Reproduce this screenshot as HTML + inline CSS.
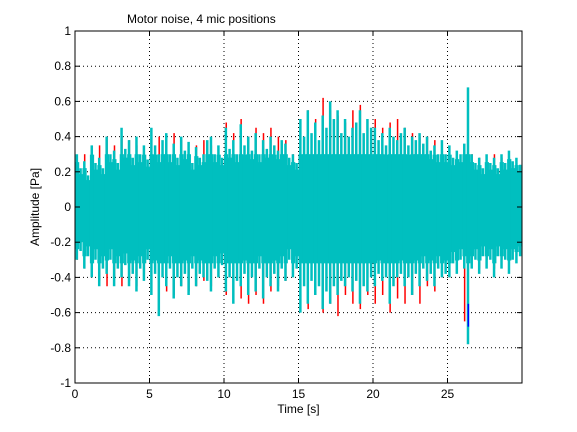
<!DOCTYPE html>
<html><head><meta charset="utf-8"><style>
body{margin:0;background:#fff;}
svg{display:block;font-family:"Liberation Sans",Arial,sans-serif;font-size:12px;}
</style></head><body>
<svg id="c" width="577" height="432">
<rect x="0" y="0" width="577" height="432" fill="#fff"/>
<g id="plot"></g>
</svg>
<script>
const xTicks=[0,5,10,15,20,25];
const yTicks=[-1,-0.8,-0.6,-0.4,-0.2,0,0.2,0.4,0.6,0.8,1];
const yTickLabels=["-1","-0.8","-0.6","-0.4","-0.2","0","0.2","0.4","0.6","0.8","1"];
const cyanMax=[.30,.22,.26,.18,.35,.25,.28,.22,.40,.30,.32,.25,.45,.33,.38,.28,.40,.30,.35,.27,
.45,.35,.30,.38,.42,.30,.36,.28,.40,.32,.37,.25,.34,.28,.30,.38,.40,.30,.35,.28,
.45,.33,.38,.30,.47,.35,.40,.32,.42,.30,.38,.33,.40,.35,.32,.38,.36,.28,.30,.25,
.50,.40,.55,.42,.48,.38,.52,.45,.60,.50,.55,.42,.50,.40,.45,.48,.55,.42,.50,.45,
.45,.38,.42,.35,.45,.40,.38,.42,.45,.35,.40,.38,.42,.36,.40,.32,.35,.30,.38,.30,
.35,.28,.32,.30,.36,.68,.30,.25,.28,.22,.30,.25,.28,.22,.30,.25,.32,.26,.28,.24];
const cyanMin=[-.30,-.25,-.35,-.28,-.40,-.30,-.45,-.35,-.38,-.30,-.45,-.35,-.40,-.33,-.45,-.38,-.48,-.35,-.42,-.30,
-.50,-.38,-.62,-.40,-.45,-.35,-.52,-.40,-.45,-.38,-.50,-.35,-.45,-.38,-.40,-.42,-.48,-.35,-.40,-.33,
-.48,-.40,-.55,-.42,-.45,-.38,-.50,-.40,-.48,-.35,-.52,-.40,-.45,-.38,-.48,-.35,-.42,-.30,-.40,-.35,
-.60,-.45,-.55,-.42,-.50,-.45,-.58,-.48,-.55,-.45,-.50,-.42,-.45,-.40,-.48,-.42,-.55,-.45,-.48,-.40,
-.45,-.38,-.42,-.40,-.55,-.45,-.40,-.38,-.45,-.40,-.50,-.38,-.45,-.35,-.42,-.38,-.45,-.35,-.40,-.38,
-.40,-.32,-.38,-.30,-.35,-.78,-.35,-.30,-.38,-.28,-.35,-.30,-.40,-.28,-.35,-.30,-.38,-.30,-.32,-.28];
const redMax=[.25,.3,.3,.35,.4,.35,.4,.38,.35,.3,.35,.4,.35,.42,.38,.3,.35,.38,.35,.28,
.48,.42,.5,.4,.45,.42,.45,.4,.38,.3,.5,.55,.5,.62,.55,.52,.48,.55,.58,.5,
.5,.45,.48,.5,.45,.42,.4,.4,.38,.32,.3,.3,.32,.3,.28,.25,.3,.28,.28,.25];
const redMin=[-.3,-.35,-.4,-.42,-.45,-.4,-.45,-.42,-.45,-.38,-.5,-.55,-.48,-.5,-.45,-.48,-.45,-.42,-.45,-.4,
-.5,-.5,-.52,-.55,-.5,-.55,-.48,-.45,-.42,-.38,-.55,-.58,-.5,-.6,-.55,-.62,-.5,-.55,-.58,-.5,
-.55,-.5,-.6,-.52,-.55,-.5,-.55,-.45,-.48,-.4,-.4,-.35,-.65,-.3,-.35,-.3,-.35,-.3,-.3,-.28];
const blueSpikeT=26.4, blueSpikeMin=-0.68;

const L=75,R=522,T=31,B=383,XMAX=30;
const sx=t=>L+(R-L)*t/XMAX;
const sy=v=>T+(B-T)*(1-v)/2;
const NS='http://www.w3.org/2000/svg';
const g=document.getElementById('plot');
function mk(tag,attrs,parent){const e=document.createElementNS(NS,tag);for(const k in attrs)e.setAttribute(k,attrs[k]);(parent||g).appendChild(e);return e;}

xTicks.forEach(t=>{if(t>0){const e=mk('line',{x1:sx(t),x2:sx(t),y1:T,y2:B,stroke:'#000','stroke-width':1,'stroke-dasharray':'1,3'});

}});
yTicks.forEach(v=>{if(v>-1&&v<1){const e=mk('line',{x1:L,x2:R,y1:sy(v),y2:sy(v),stroke:'#000','stroke-width':1,'stroke-dasharray':'1,3'});

}});

const rw=0.5;
redMax.forEach((v,i)=>{const x=sx((i+0.3)*rw);const e=mk('line',{x1:x,x2:x,y1:sy(v),y2:sy(redMin[i]),stroke:'#f00','stroke-width':1.5});

});
const cw=0.25;
cyanMax.forEach((v,i)=>{const x=sx((i+0.5)*cw);const e=mk('line',{x1:x,x2:x,y1:sy(v),y2:sy(cyanMin[i]),stroke:'#00bfbf','stroke-width':2.5});

});
cyanMax.forEach((v,i)=>{const x=sx(i*cw);const top=Math.min(v*0.85,0.3),bot=Math.max(cyanMin[i]*0.8,-0.32);
const e=mk('rect',{x:x,y:sy(top),width:sx(cw)-sx(0)+0.5,height:sy(bot)-sy(top),fill:'#00bfbf'});

});
{const x=sx(blueSpikeT);const e=mk('line',{x1:x,x2:x,y1:sy(-0.55),y2:sy(blueSpikeMin),stroke:'#00f','stroke-width':1.5});

}

{const e=mk('rect',{x:L,y:T,width:R-L,height:B-T,fill:'none',stroke:'#000','stroke-width':1});

}
xTicks.forEach(t=>{const x=sx(t);mk('line',{x1:x,x2:x,y1:B,y2:B-5,stroke:'#000'});mk('line',{x1:x,x2:x,y1:T,y2:T+5,stroke:'#000'});
const e=mk('text',{x:x,y:B+15,'text-anchor':'middle'});e.textContent=t;

});
yTicks.forEach((v,i)=>{const y=sy(v);mk('line',{x1:L,x2:L+5,y1:y,y2:y,stroke:'#000'});mk('line',{x1:R,x2:R-5,y1:y,y2:y,stroke:'#000'});
const e=mk('text',{x:L-4,y:y+4,'text-anchor':'end'});e.textContent=yTickLabels[i];

});
{const e=mk('text',{x:(L+R)/2,y:B+30,'text-anchor':'middle'});e.textContent='Time [s]';

}
{const e=mk('text',{x:0,y:0,'text-anchor':'middle',transform:'translate(39,207) rotate(-90)'});e.textContent='Amplitude [Pa]';

}
{const e=mk('text',{x:127,y:23});e.textContent='Motor noise, 4 mic positions';

}
</script>
</body></html>
